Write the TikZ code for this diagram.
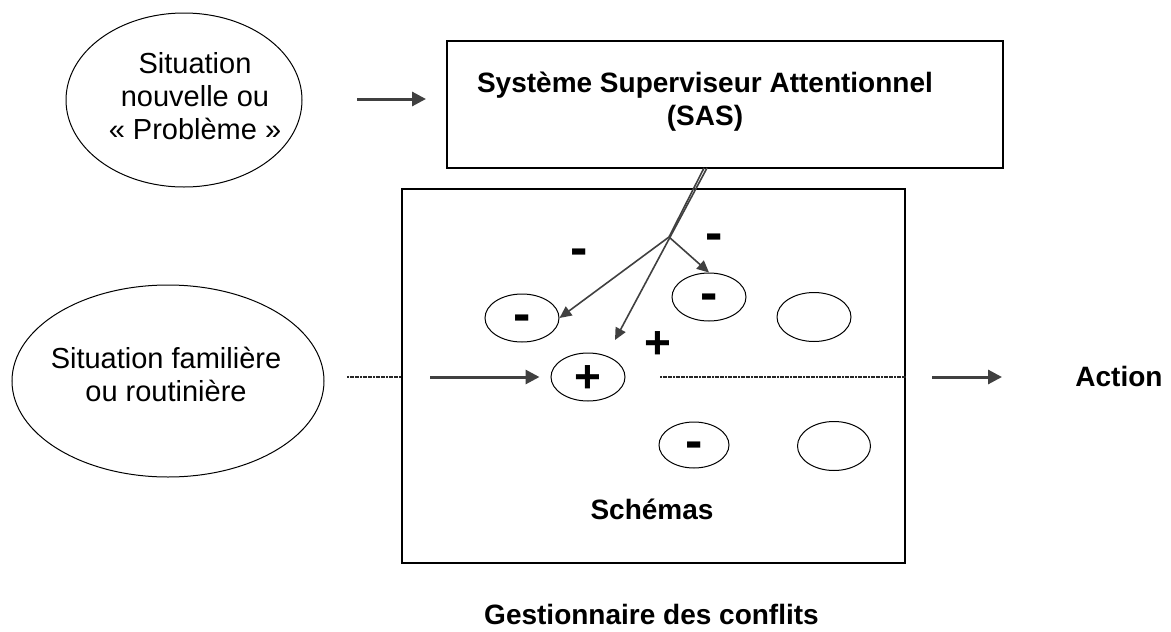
\documentclass[tikz,border=0pt]{standalone}
\usepackage{fontspec}
\setmainfont{Liberation Sans}
\usetikzlibrary{shapes.geometric,arrows.meta,calc}
\begin{document}
\begin{tikzpicture}[x=1pt,y=-1pt,
  oval/.style={draw=black,line width=1pt,ellipse,inner sep=0pt},
  frame/.style={draw=black,line width=1.3pt,inner sep=0pt},
  lbl/.style={font=\fontsize{29}{33}\selectfont,align=center,inner sep=0pt},
  blbl/.style={font=\bfseries\fontsize{28}{33}\selectfont,align=center,inner sep=0pt},
  minus/.style={font=\bfseries\fontsize{52}{52}\selectfont,inner sep=0pt,text height=27pt,text depth=0pt},
  plus/.style={font=\bfseries\fontsize{46}{46}\selectfont,inner sep=0pt,text height=31pt,text depth=0pt},
  feed/.style={draw=black!75,line width=3pt,-{Triangle[length=14pt,width=14pt]}},
  ctrlline/.style={draw=black!75,line width=1.6pt},
  ctrl/.style={ctrlline,-{Triangle[length=12pt,width=11pt]}},
  trace/.style={draw=black!85,line width=1.3pt,dash pattern=on 2pt off 0.6pt}]
\useasboundingbox (0,0) rectangle (1171,632);

% situations
\node[oval,minimum width=236pt,minimum height=174pt] (newsit) at (184,100) {};
\node[lbl] (newsitText) at (195,96.5) {Situation\\nouvelle ou\\«~Problème~»};
\node[oval,minimum width=312pt,minimum height=192pt] (famsit) at (168,381) {};
\node[lbl] (famsitText) at (166,374.5) {Situation familière\\ou routinière};

% supervisory system
\node[frame,minimum width=556pt,minimum height=127pt] (sas) at (725,104.5) {};
\node[blbl] (sasText) at (705,102) {Système Superviseur Attentionnel\\(SAS)};

% contention scheduling
\node[frame,minimum width=503pt,minimum height=374pt] (gest) at (653.5,376) {};
\node[blbl] (schemas) at (652,509.5) {Schémas};
\node[blbl] (gestText) at (651.5,614) {Gestionnaire des conflits};
\node[blbl] (action) at (1119,376) {Action};

% schemas
\node[oval,minimum width=74pt,minimum height=48pt] (m1) at (522,318) {};
\node[oval,minimum width=74pt,minimum height=48pt] (m2) at (709,297) {};
\node[oval,minimum width=74pt,minimum height=49pt] (e1) at (814,317) {};
\node[oval,minimum width=74pt,minimum height=48pt] (pl) at (588,377) {};
\node[oval,minimum width=70pt,minimum height=46pt] (m3) at (694,445) {};
\node[oval,minimum width=73pt,minimum height=49pt] (e2) at (834,446) {};

\node[minus] (m1s) at (m1) {-};
\node[minus] (m2s) at (m2) {-};
\node[minus] (m3s) at (m3) {-};
\node[plus] (pls) at (pl) {+};
\node[minus] (s1) at (579,252) {-};
\node[minus] (s2) at (714,237) {-};
\node[plus] (s3) at (658,343) {+};

% inputs and output
\coordinate (nsA) at (357,99);
\coordinate (nsB) at (426,99);
\draw[feed] (nsA) -- (nsB);

\coordinate (fsA) at (347,377);
\draw[trace] (fsA) -- (fsA -| gest.west);
\coordinate (fsB) at (430,377);
\draw[feed,shorten >=11pt] (fsB) -- (pl.west);

\coordinate (outA) at (660,377);
\draw[trace] (outA) -- (outA -| gest.east);
\coordinate (outB) at (932,377);
\coordinate (outC) at (1002,377);
\draw[feed] (outB) -- (outC);

% supervisory biasing
\coordinate (sasOutA) at (704,168);
\coordinate (sasOutB) at (707,168);
\coordinate (fork) at (669,237);
\coordinate (plTip) at (615,340);
\draw[ctrlline] (sasOutA) -- (fork);
\draw[ctrl] (fork) -- (m1.east);
\draw[ctrl] (fork) -- (m2.north);
\draw[ctrl] (sasOutB) -- (plTip);
\end{tikzpicture}
\end{document}
